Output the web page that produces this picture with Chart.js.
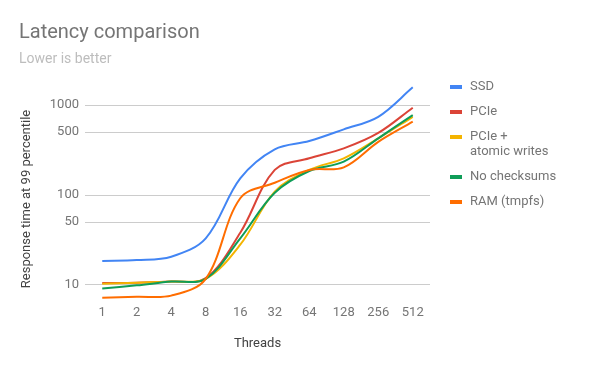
<!DOCTYPE html>
<html>
<head>
<meta charset="utf-8">
<script src="https://cdn.jsdelivr.net/npm/chart.js@4/dist/chart.umd.min.js"></script>
<style>
  body { margin: 0; background: #fff; }
  canvas { display: block; }
</style>
</head>
<body>
<canvas id="myChart" width="600" height="371"></canvas>
<script>
// Data (log scale, response time at 99 percentile)
const threads = ['1', '2', '4', '8', '16', '32', '64', '128', '256', '512'];
const ssd = [18.5, 18.9, 20.6, 33, 153, 322, 398, 537, 741, 1575];
const pcie = [10.5, 10.6, 10.9, 11.9, 38, 190, 256, 330, 490, 935];
const pcieAtomic = [10.3, 10.6, 10.9, 11.7, 28, 109, 190, 256, 427, 741];
const noChecksums = [9.1, 9.9, 10.9, 11.7, 33, 106, 185, 235, 427, 774];
const ram = [7.2, 7.4, 7.6, 11.7, 92, 137, 190, 203, 390, 654];
const yTicks = [10, 50, 100, 500, 1000];

const seriesNames = ['SSD', 'PCIe', ['PCIe +', 'atomic writes'], 'No checksums', 'RAM (tmpfs)'];
const seriesColors = ['#4285f4', '#db4437', '#f4b400', '#0f9d58', '#ff6d00'];

const ctx = document.getElementById('myChart');

// Title, subtitle, y axis title and the legend on the right are drawn here
const decorations = {
  id: 'decorations',
  afterDraw(chart) {
    const c = chart.ctx;
    c.save();
    c.textAlign = 'left';
    c.textBaseline = 'alphabetic';
    c.fillStyle = '#757575';
    c.font = '20px Roboto';
    c.fillText('Latency comparison', 19, 38);
    c.fillStyle = '#bdbdbd';
    c.font = '14px Roboto';
    c.fillText('Lower is better', 19, 63);

    // y axis title
    c.font = '13px Roboto';
    c.fillStyle = '#424242';
    c.textAlign = 'center';
    c.textBaseline = 'middle';
    c.translate(27, 199);
    c.rotate(-Math.PI / 2);
    c.fillText('Response time at 99 percentile', 0, 0);
    c.setTransform(1, 0, 0, 1, 0, 0);

    // legend
    c.textAlign = 'left';
    let y = 87;
    chart.data.datasets.forEach(ds => {
      const lines = Array.isArray(ds.label) ? ds.label : [ds.label];
      c.fillStyle = ds.borderColor;
      c.fillRect(450, y - 2, 12, 4);
      c.fillStyle = '#757575';
      lines.forEach((t, i) => c.fillText(t, 470, y + i * 15));
      y += 25 + (lines.length - 1) * 15;
    });
    c.restore();
  }
};

const datasets = [ssd, pcie, pcieAtomic, noChecksums, ram].map((values, i) => ({
  label: seriesNames[i],
  data: values,
  borderColor: seriesColors[i],
  backgroundColor: seriesColors[i],
  borderWidth: 2,
  pointRadius: 0,
  tension: 0.35,
  order: 5 - i
}));

new Chart(ctx, {
  type: 'line',
  data: {
    labels: threads,
    datasets: datasets
  },
  options: {
    responsive: false,
    animation: false,
    layout: {
      padding: { top: 80, right: 170, left: 0, bottom: 0 }
    },
    plugins: {
      legend: { display: false },
      title: { display: false },
      tooltip: { enabled: false }
    },
    scales: {
      x: {
        type: 'category',
        offset: true,
        grid: { display: false, drawTicks: false },
        border: { display: false },
        ticks: {
          color: '#757575',
          font: { family: 'Roboto', size: 13 },
          padding: 5,
          maxRotation: 0,
          autoSkip: false
        },
        title: {
          display: true,
          text: 'Threads',
          color: '#424242',
          font: { family: 'Roboto', size: 13 },
          padding: { top: 0, bottom: 19 }
        },
        afterFit(scale) { scale.height = 71; }
      },
      y: {
        type: 'logarithmic',
        min: 6.8,
        max: 1900,
        grid: { color: '#cccccc', drawTicks: false },
        border: { display: false },
        afterBuildTicks(scale) {
          scale.ticks = yTicks.map(v => ({ value: v }));
        },
        ticks: {
          color: '#757575',
          font: { family: 'Roboto', size: 13 },
          padding: 6,
          callback: v => String(v)
        },
        afterFit(scale) { scale.width = 85; }
      }
    }
  },
  plugins: [decorations]
});
</script>
</body>
</html>
